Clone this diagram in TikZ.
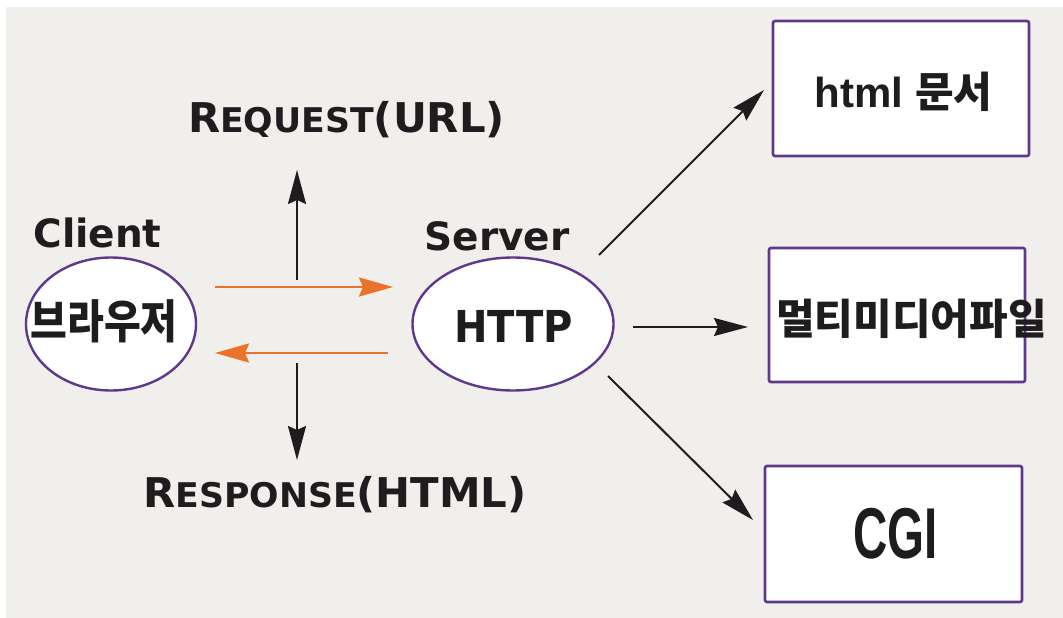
\documentclass[tikz,border=0pt]{standalone}
\usepackage{graphicx}
\usepackage{fontspec}
\setmainfont{Liberation Sans}
\newfontfamily\kr{Noto Sans CJK KR}
\newfontfamily\dvs{DejaVu Sans}
\usetikzlibrary{arrows.meta,shapes.geometric}
\definecolor{bg}{RGB}{240,239,235}
\definecolor{pur}{RGB}{95,55,140}
\definecolor{org}{RGB}{234,114,42}
\definecolor{ink}{RGB}{30,28,30}
\newcommand\bigC[1]{{\fontsize{41}{41}\selectfont #1}}
\newcommand\smC[1]{{\fontsize{34}{34}\selectfont #1}}
\begin{document}
\begin{tikzpicture}[x=1pt,y=-1pt,
  ell/.style={ellipse, draw=pur, line width=2.4pt, fill=white, inner sep=0pt},
  box/.style={draw=pur, line width=2.6pt, fill=white, rounded corners=2pt, inner sep=0pt},
  lbl/.style={inner sep=0pt, text=ink, font=\bfseries},
  arr/.style={line width=2pt, draw=ink, -{Stealth[length=34pt,width=18pt,inset=4pt]}},
  oarr/.style={line width=2.5pt, draw=org, -{Stealth[length=34pt,width=19pt,inset=4pt]}}]
\useasboundingbox (0,0) rectangle (1063,618);
\fill[bg] (6,7) rectangle (1063,618);
% ellipses
\node[ell, minimum width=170pt, minimum height=133pt] (client) at (111,324) {};
\node[ell, minimum width=201pt, minimum height=133pt] (server) at (513,324) {};
% boxes
\node[box, minimum width=256pt, minimum height=135pt] (html) at (901,88.5) {};
\node[box, minimum width=256pt, minimum height=134pt] (media) at (897,315) {};
\node[box, minimum width=257pt, minimum height=136pt] (cgi) at (893.5,534) {};
% texts
\node[lbl, font=\dvs\bfseries] (clientlbl) at (97.5,233) {\fontsize{39}{39}\selectfont Client};
\node[lbl, font=\dvs\bfseries] (serverlbl) at (497,236) {\fontsize{39}{39}\selectfont Server};
\node[lbl, font=\dvs\bfseries] (httplbl) at (513.5,326) {\scalebox{0.91}[1]{\fontsize{44}{44}\selectfont HTTP}};
\node[lbl, font=\kr\bfseries] (browser) at (104,321.5) {\scalebox{1}[1.15]{\fontsize{40}{40}\selectfont 브라우저}};
\node[lbl] (htmllbl) at (903.5,92) {\fontsize{42}{42}\selectfont html {\kr\bfseries 문서}};
\node[lbl, font=\kr\bfseries] (medialbl) at (911.5,318.5) {\scalebox{1.05}[1.05]{\fontsize{40}{40}\selectfont 멀티미디어파일}};
\node[lbl] (cgilbl) at (895.5,534) {\scalebox{0.66}[1]{\fontsize{72}{72}\selectfont CGI}};
\node[lbl, font=\dvs\bfseries, anchor=base] (req) at (346.5,132) {\scalebox{1.02}[1]{\bigC{R}\smC{EQUEST}\bigC{(URL)}}};
\node[lbl, font=\dvs\bfseries, anchor=base] (resp) at (335,507) {\scalebox{1.02}[1]{\bigC{R}\smC{ESPONSE}\bigC{(HTML)}}};
% connector end points
\coordinate (o1s) at (215,287); \coordinate (o1e) at (393,287);
\coordinate (o2s) at (388,353); \coordinate (o2e) at (215,353);
\coordinate (v1s) at (297,280); \coordinate (v1e) at (297,170);
\coordinate (v2s) at (297,363); \coordinate (v2e) at (297,460);
\coordinate (d1s) at (599,255); \coordinate (d1e) at (764,90);
\coordinate (d2s) at (633,327); \coordinate (d2e) at (748,327);
\coordinate (d3s) at (608,376); \coordinate (d3e) at (753,520);
\draw[oarr] (o1s) -- (o1e);
\draw[oarr] (o2s) -- (o2e);
\draw[arr] (v1s) -- (v1e);
\draw[arr] (v2s) -- (v2e);
\draw[arr] (d1s) -- (d1e);
\draw[arr] (d2s) -- (d2e);
\draw[arr] (d3s) -- (d3e);
\end{tikzpicture}
\end{document}
